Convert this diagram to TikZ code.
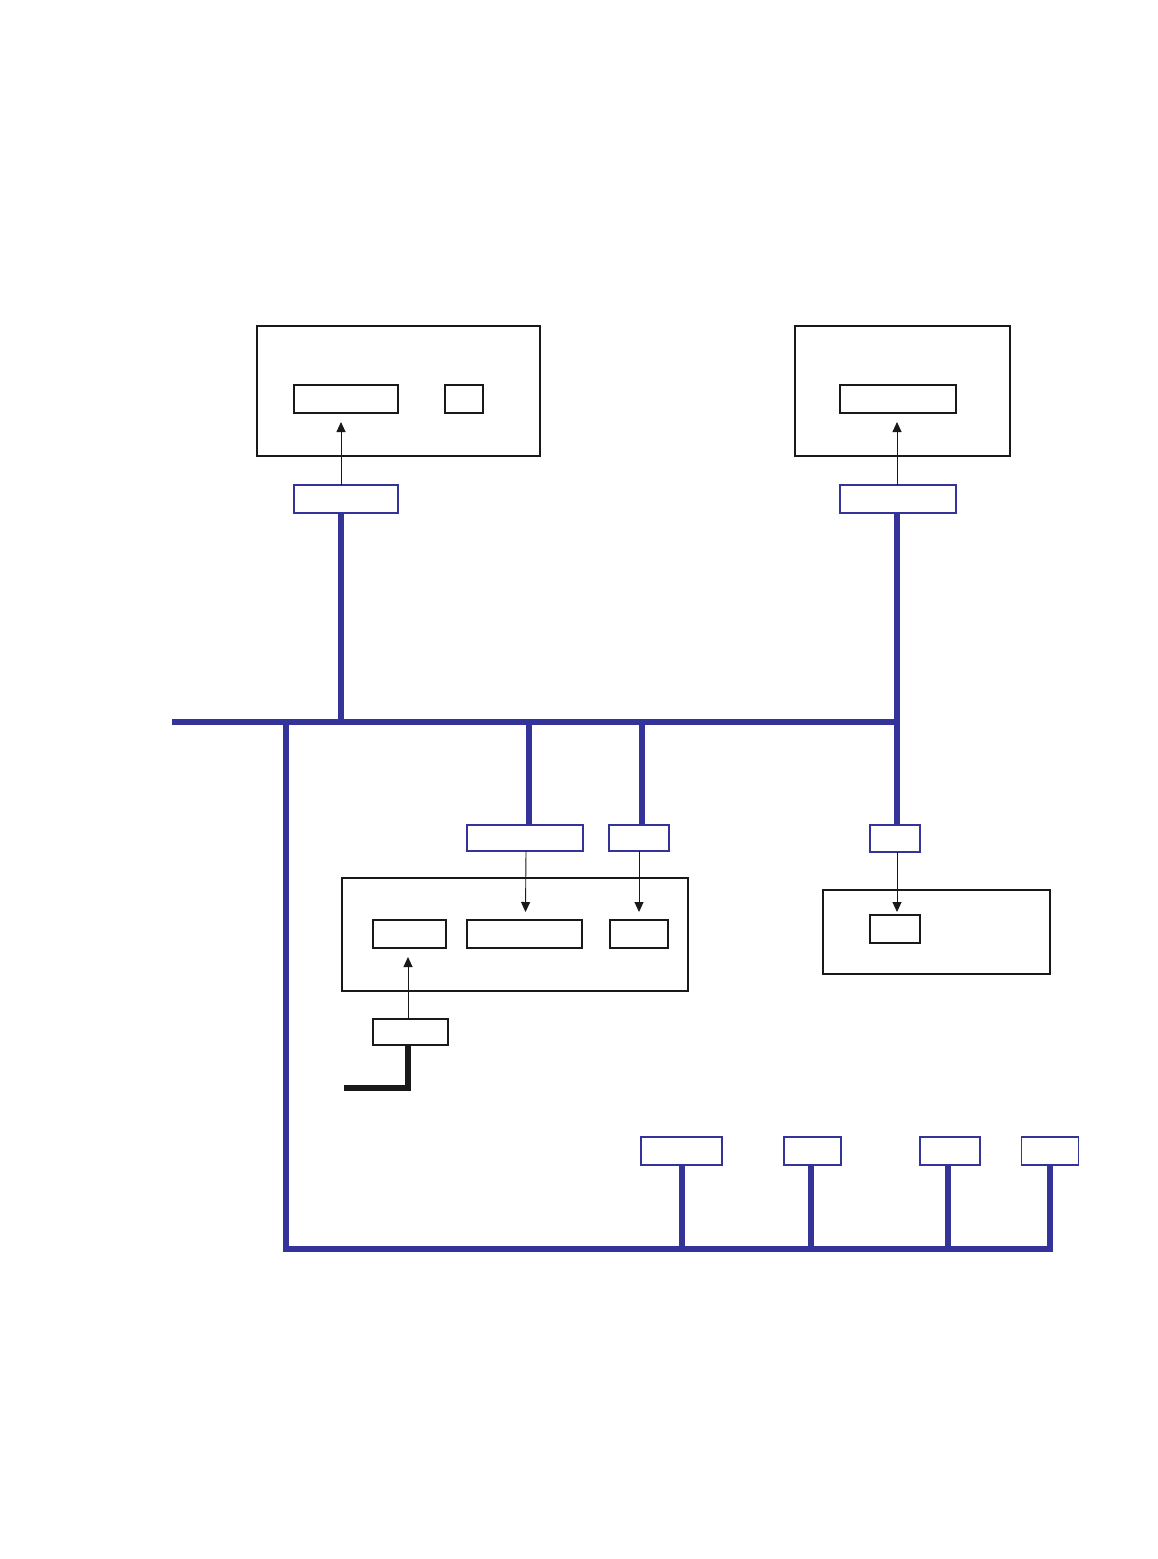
\documentclass[tikz,border=0pt]{standalone}
\usetikzlibrary{arrows.meta,calc}
\definecolor{busblue}{RGB}{51,51,153}
\begin{document}
\begin{tikzpicture}[x=1pt,y=-1pt,
  outerbox/.style={draw=black!90,line width=2.6pt,inner sep=0pt,outer sep=0pt,rectangle},
  innerbox/.style={draw=black!90,line width=1.2pt,inner sep=0pt,outer sep=0pt,rectangle},
  bluebox/.style={draw=busblue,line width=1.2pt,inner sep=0pt,outer sep=0pt,rectangle,fill=white},
  bus/.style={draw=busblue,line width=5.5pt},
  blackbus/.style={draw=black!90,line width=5.5pt},
  sig/.style={draw=black!90,line width=0.9pt,-{Triangle[length=10pt,width=9pt]}}]
\useasboundingbox (0,0) rectangle (1158,1559);
% top-left unit
\node[outerbox,minimum width=283,minimum height=130] (A) at (398.5,391) {};
\node[innerbox,minimum width=104,minimum height=28] (a1) at (346,399) {};
\node[innerbox,minimum width=38,minimum height=28] (a2) at (464,399) {};
\node[bluebox,minimum width=104,minimum height=28] (b1) at (346,499) {};
% top-right unit
\node[outerbox,minimum width=215,minimum height=130] (B) at (902.5,391) {};
\node[innerbox,minimum width=116,minimum height=28] (bi) at (898,399) {};
\node[bluebox,minimum width=116,minimum height=28] (bb) at (898,499) {};
% middle unit
\node[outerbox,minimum width=346,minimum height=113] (C) at (515,934.5) {};
\node[innerbox,minimum width=73,minimum height=28] (c1) at (409.5,934) {};
\node[innerbox,minimum width=115,minimum height=28] (c2) at (524.5,934) {};
\node[innerbox,minimum width=58,minimum height=28] (c3) at (639,934) {};
\node[bluebox,minimum width=116,minimum height=26] (e1) at (525,838) {};
\node[bluebox,minimum width=60,minimum height=26] (e2) at (639,838) {};
\node[innerbox,minimum width=75,minimum height=26] (f) at (410.5,1032) {};
% right unit
\node[outerbox,minimum width=227,minimum height=84] (D) at (936.5,932) {};
\node[innerbox,minimum width=50,minimum height=28] (d1) at (895,929) {};
\node[bluebox,minimum width=50,minimum height=27] (dd) at (895,838.5) {};
% bottom boxes
\node[bluebox,minimum width=81,minimum height=28] (g1) at (681.5,1151) {};
\node[bluebox,minimum width=57,minimum height=28] (g2) at (812.5,1151) {};
\node[bluebox,minimum width=60,minimum height=28] (g3) at (950,1151) {};
\node[bluebox,minimum width=57,minimum height=28] (g4) at (1050,1151) {};
% bus coordinates
\coordinate (busL) at (172,722);
\coordinate (busR) at (897,722);
\coordinate (busJ) at (286,722);
\coordinate (botL) at (286,1249);
\coordinate (wireEnd) at (344,1088);
% buses
\draw[bus] (busL) -- (busR);
\draw[bus,line join=miter] (busJ) -- (botL) -- (botL -| g4.south) -- (g4.south);
\draw[bus] ([xshift=-5pt]b1.south) -- ([xshift=-5pt]b1.south |- busL);
\draw[bus] ([xshift=-1pt]bb.south) -- ([xshift=-1pt]dd.north -| bb.south);
\draw[bus] ([xshift=4pt]e1.north) -- ([xshift=4pt]e1.north |- busL);
\draw[bus] ([xshift=3pt]e2.north) -- ([xshift=3pt]e2.north |- busL);
\draw[bus] ([xshift=0.5pt]g1.south) -- ([xshift=0.5pt]g1.south |- botL);
\draw[bus] ([xshift=-1.5pt]g2.south) -- ([xshift=-1.5pt]g2.south |- botL);
\draw[bus] ([xshift=-2pt]g3.south) -- ([xshift=-2pt]g3.south |- botL);
\draw[blackbus,line join=miter] ([xshift=-2.5pt]f.south) -- ([xshift=-2.5pt]f.south |- wireEnd) -- (wireEnd);
% signal arrows
\draw[sig] ([xshift=-5pt]b1.north) -- ([xshift=-5pt,yshift=-9pt]a1.south);
\draw[sig] ([xshift=-1pt]bb.north) -- ([xshift=-1pt,yshift=-9pt]bi.south);
\draw[sig] ([xshift=1pt]e1.south) -- ([xshift=1pt,yshift=8pt]c2.north);
\draw[sig] (e2.south) -- ([yshift=8pt]c3.north);
\draw[sig] ([xshift=2pt]dd.south) -- ([xshift=2pt,yshift=3pt]d1.north);
\draw[sig] ([xshift=-2.5pt]f.north) -- ([xshift=-1.5pt,yshift=-9pt]c1.south);
\end{tikzpicture}
\end{document}
